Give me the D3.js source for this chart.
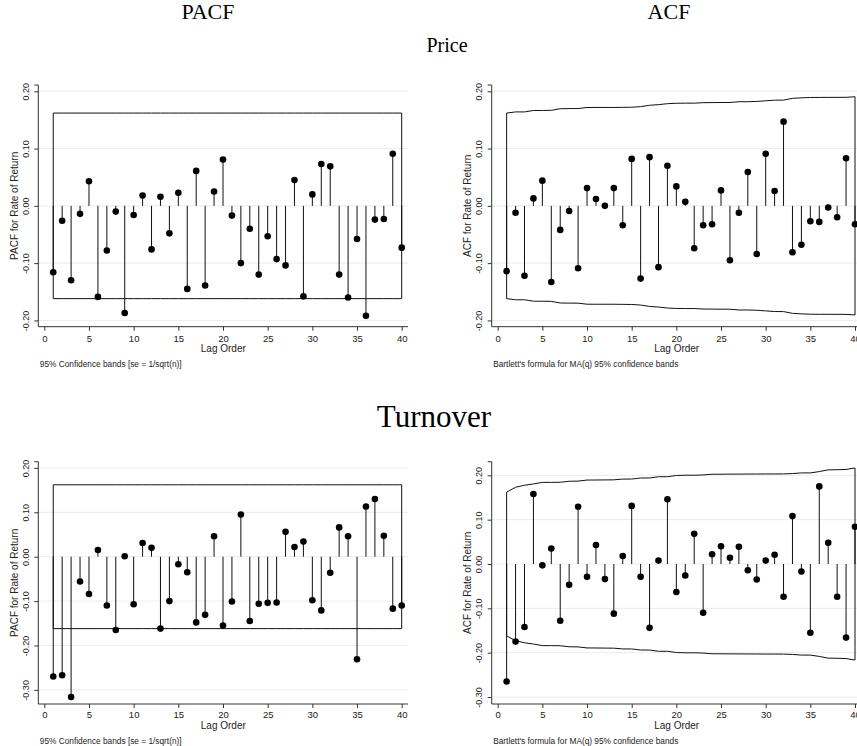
<!DOCTYPE html>
<html><head><meta charset="utf-8">
<script src="https://cdn.jsdelivr.net/npm/d3@7/dist/d3.min.js"></script>
<style>body{margin:0;background:#fff}svg{display:block}</style>
</head><body>
<svg id="c" width="857" height="746"></svg>
<script>
const lags = [1,2,3,4,5,6,7,8,9,10,11,12,13,14,15,16,17,18,19,20,21,22,23,24,25,26,27,28,29,30,31,32,33,34,35,36,37,38,39,40];
const pacfPrice = [-0.116,-0.026,-0.130,-0.014,0.043,-0.159,-0.078,-0.010,-0.187,-0.016,0.018,-0.076,0.016,-0.048,0.023,-0.145,0.061,-0.139,0.025,0.081,-0.017,-0.100,-0.040,-0.120,-0.053,-0.093,-0.104,0.045,-0.158,0.020,0.073,0.069,-0.120,-0.160,-0.058,-0.192,-0.024,-0.023,0.091,-0.073];
const acfPrice = [-0.114,-0.012,-0.122,0.013,0.044,-0.133,-0.042,-0.009,-0.109,0.031,0.012,0.000,0.031,-0.034,0.082,-0.127,0.085,-0.107,0.070,0.034,0.007,-0.074,-0.034,-0.032,0.027,-0.095,-0.012,0.059,-0.084,0.091,0.026,0.147,-0.081,-0.068,-0.027,-0.028,-0.003,-0.020,0.083,-0.032];
const pacfTurnover = [-0.270,-0.267,-0.316,-0.056,-0.084,0.015,-0.110,-0.165,0.001,-0.107,0.031,0.020,-0.162,-0.100,-0.017,-0.035,-0.148,-0.131,0.046,-0.155,-0.101,0.095,-0.145,-0.106,-0.104,-0.103,0.056,0.022,0.034,-0.098,-0.121,-0.036,0.066,0.046,-0.231,0.113,0.130,0.047,-0.117,-0.110];
const acfTurnover = [-0.265,-0.175,-0.142,0.158,-0.003,0.035,-0.128,-0.047,0.129,-0.029,0.043,-0.034,-0.112,0.018,0.131,-0.029,-0.144,0.008,0.146,-0.063,-0.026,0.068,-0.110,0.022,0.040,0.014,0.039,-0.014,-0.035,0.008,0.021,-0.074,0.108,-0.017,-0.155,0.175,0.048,-0.074,-0.166,0.084];
const pacfBandPrice = 0.162;
const pacfBandTurnover = 0.162;
const acfBandPrice = [0.162,0.164,0.164,0.1665,0.1665,0.1668,0.1696,0.1698,0.1699,0.1717,0.1718,0.1718,0.1718,0.1720,0.1722,0.1732,0.1756,0.1767,0.1784,0.1791,0.1793,0.1793,0.1801,0.1803,0.1804,0.1805,0.1818,0.1818,0.1823,0.1834,0.1845,0.1846,0.1877,0.1886,0.1892,0.1893,0.1894,0.1894,0.1895,0.1905];
const acfBandTurnover = [0.162,0.1730,0.1776,0.1805,0.1841,0.1841,0.1843,0.1866,0.1869,0.1893,0.1894,0.1896,0.1898,0.1915,0.1916,0.1939,0.1940,0.1968,0.1968,0.1996,0.2002,0.2002,0.2008,0.2024,0.2025,0.2027,0.2027,0.2029,0.2029,0.2031,0.2031,0.2032,0.2039,0.2054,0.2054,0.2084,0.2123,0.2126,0.2132,0.2166];
const xTicks = [0,5,10,15,20,25,30,35,40];
const yTicksPrice = [-0.2,-0.1,0,0.1,0.2];
const yTicksTurnover = [-0.3,-0.2,-0.1,0,0.1,0.2];
const titles = ["PACF","ACF"];
const rowTitles = ["Price","Turnover"];
const yTitles = ["PACF for Rate of Return","ACF for Rate of Return"];
const xTitle = "Lag Order";
const notes = ["95% Confidence bands [se = 1/sqrt(n)]","Bartlett's formula for MA(q) 95% confidence bands"];

const svg = d3.select("#c");
const serif = "'Liberation Serif','Times New Roman',serif";
const sans = "'Liberation Sans',Arial,sans-serif";

svg.append("text").attr("x",208).attr("y",19).attr("text-anchor","middle")
  .attr("font-family",serif).attr("font-size",22).text(titles[0]);
svg.append("text").attr("x",669).attr("y",19).attr("text-anchor","middle")
  .attr("font-family",serif).attr("font-size",22).text(titles[1]);
svg.append("text").attr("x",447).attr("y",52).attr("text-anchor","middle")
  .attr("font-family",serif).attr("font-size",20).text(rowTitles[0]);
svg.append("text").attr("x",434).attr("y",427).attr("text-anchor","middle")
  .attr("font-family",serif).attr("font-size",31).text(rowTitles[1]);

function panel(o){
  const g = svg.append("g");
  const x = d3.scaleLinear().domain([0,40]).range([o.x0,o.x40]);
  const y = d3.scaleLinear().domain(o.yDomain).range([o.bottom,o.top]);
  g.selectAll(".grid").data(o.yTicks).enter().append("line")
    .attr("x1",o.left).attr("x2",o.right)
    .attr("y1",d=>y(d)).attr("y2",d=>y(d))
    .attr("stroke","#e6eef0").attr("stroke-width",1);
  const ya = d3.axisLeft(y).tickValues(o.yTicks).tickSize(4).tickFormat(d=>d.toFixed(2));
  const yg = g.append("g").attr("transform",`translate(${o.left},0)`).call(ya);
  yg.select(".domain").attr("d",`M-4,${o.top}H0V${o.bottom}`).attr("stroke","#333");
  yg.selectAll(".tick line").attr("stroke","#333");
  yg.selectAll(".tick text").attr("font-family",sans).attr("font-size",9).attr("fill","#222")
    .attr("text-anchor","middle").attr("x",0).attr("dy",0)
    .attr("transform","translate(-12.5,0) rotate(-90)").attr("dominant-baseline","central");
  const xa = d3.axisBottom(x).tickValues(xTicks).tickSize(4).tickFormat(d3.format("d"));
  const xg = g.append("g").attr("transform",`translate(0,${o.bottom})`).call(xa);
  xg.select(".domain").attr("d",`M${o.left},0H${o.right}`).attr("stroke","#333");
  xg.selectAll(".tick line").attr("stroke","#333");
  xg.selectAll(".tick text").attr("font-family",sans).attr("font-size",9.5).attr("fill","#222")
    .attr("dy",0).attr("y",o.tickLab);
  g.append("text").attr("x",o.left+185).attr("y",o.bottom+o.xTitleOff)
    .attr("text-anchor","middle").attr("font-family",sans).attr("font-size",10).attr("fill","#222").text(xTitle);
  g.append("text").attr("transform",`translate(${o.left-24},${(o.top+o.bottom)/2}) rotate(-90)`)
    .attr("dominant-baseline","central")
    .attr("text-anchor","middle").attr("font-family",sans).attr("font-size",10).attr("fill","#222").text(o.yTitle);
  g.append("text").attr("x",o.left+1.5).attr("y",o.bottom+o.noteOff)
    .attr("font-family",sans).attr("font-size",8.3).attr("fill","#222").text(o.note);
  const band = o.band;
  const up = lags.map((l,i)=>[x(l),y(Array.isArray(band)?band[i]:band)]);
  const lo = lags.map((l,i)=>[x(l),y(-(Array.isArray(band)?band[i]:band))]).reverse();
  g.append("path").attr("d",d3.line()(up.concat(lo))+"Z")
    .attr("fill","none").attr("stroke","#111").attr("stroke-width",1);
  g.selectAll(".stem").data(o.values).enter().append("line")
    .attr("x1",(d,i)=>x(lags[i])).attr("x2",(d,i)=>x(lags[i]))
    .attr("y1",y(0)).attr("y2",d=>y(d))
    .attr("stroke","#111").attr("stroke-width",1);
  g.selectAll(".pt").data(o.values).enter().append("circle")
    .attr("cx",(d,i)=>x(lags[i])).attr("cy",d=>y(d)).attr("r",3.3).attr("fill","#000");
}

panel({left:38.3,right:408,x0:44.3,x40:401.7,top:85,bottom:326.7,yDomain:[-0.211,0.211],
  yTicks:yTicksPrice,values:pacfPrice,band:pacfBandPrice,yTitle:yTitles[0],note:notes[0],
  tickLab:15.5,xTitleOff:25.5,noteOff:40});
panel({left:491.7,right:870,x0:497.7,x40:855,top:85,bottom:326.7,yDomain:[-0.211,0.211],
  yTicks:yTicksPrice,values:acfPrice,band:acfBandPrice,yTitle:yTitles[1],note:notes[1],
  tickLab:15.5,xTitleOff:25.5,noteOff:40});
panel({left:38.3,right:408,x0:44.3,x40:401.7,top:461.7,bottom:704,yDomain:[-0.3318,0.2140],
  yTicks:yTicksTurnover,values:pacfTurnover,band:pacfBandTurnover,yTitle:yTitles[0],note:notes[0],
  tickLab:14,xTitleOff:24.5,noteOff:39.5});
panel({left:491.7,right:870,x0:497.7,x40:855,top:461.7,bottom:704,yDomain:[-0.3157,0.2307],
  yTicks:yTicksTurnover,values:acfTurnover,band:acfBandTurnover,yTitle:yTitles[1],note:notes[1],
  tickLab:14,xTitleOff:24.5,noteOff:39.5});
</script>
</body></html>
